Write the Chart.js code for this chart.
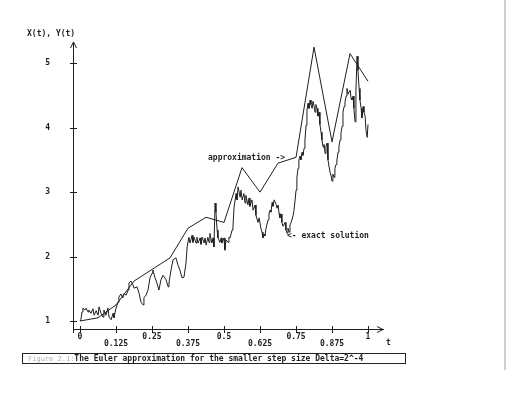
<!DOCTYPE html>
<html>
<head>
<meta charset="utf-8">
<script src="https://cdn.jsdelivr.net/npm/chart.js@4.4.1/dist/chart.umd.min.js"></script>
<style>
  html, body { margin: 0; padding: 0; background: #fff; }
  #wrap { position: relative; width: 517px; height: 400px; overflow: hidden; background: #fff; }
  #c { position: absolute; left: 0; top: 0; }
  .lbl { position: absolute; font: bold 8px "DejaVu Sans Mono", "Liberation Mono", monospace; line-height: 8px; color: #1e1e1e; white-space: pre; }
  #caption { position: absolute; left: 22px; top: 353px; width: 384px; height: 11px; box-sizing: border-box; border: 1px solid #222; }
  #caption span.fig { font-weight: normal; font-size: 7px; color: #b0b0b0; }
  #edge { position: absolute; left: 504px; top: 0; width: 2px; height: 370px; background: #cfcfcf; }
</style>
</head>
<body>
<div id="wrap">
  <canvas id="c" width="517" height="400"></canvas>
  <div class="lbl" style="left:27px; top:30px;">X(t), Y(t)</div>
  <div class="lbl" style="left:208px; top:154px;">approximation -&gt;</div>
  <div class="lbl" style="left:287px; top:232px;">&lt;- exact solution</div>
  <div class="lbl" style="left:386px; top:339px;">t</div>
  <div id="caption"><div class="lbl" style="left:5px; top:1px;"><span class="fig">Figure 2.1:</span>The Euler approximation for the smaller step size Delta=2^-4</div></div>
  <div id="edge"></div>
</div>
<script>
// ---- data ----
const xTickValues = [0, 0.125, 0.25, 0.375, 0.5, 0.625, 0.75, 0.875, 1];
const xTickLabels = ['0', '0.125', '0.25', '0.375', '0.5', '0.625', '0.75', '0.875', '1'];
const yTickValues = [1, 2, 3, 4, 5];
const yTickLabels = ['1', '2', '3', '4', '5'];

// Euler approximation, step Delta = 2^-4
const approxT = [0, 0.0625, 0.125, 0.1875, 0.25, 0.3125, 0.375, 0.4375, 0.5,
                 0.5625, 0.625, 0.6875, 0.75, 0.8125, 0.875, 0.9375, 1];
const approxY = [1.00, 1.05, 1.25, 1.62, 1.80, 1.98, 2.44, 2.61, 2.53,
                 3.38, 3.00, 3.45, 3.54, 5.25, 3.78, 5.15, 4.72];

// exact solution
const exactT = [0, 0.003, 0.007, 0.010, 0.017, 0.021, 0.028, 0.031, 0.038, 0.045, 0.049, 0.056, 0.063, 0.066, 0.073, 0.080, 0.083, 0.090, 0.097, 0.101,
  0.108, 0.115, 0.118, 0.125, 0.132, 0.135, 0.142, 0.149, 0.153, 0.160, 0.167, 0.170, 0.177, 0.184, 0.188, 0.198, 0.205, 0.212, 0.219, 0.222,
  0.229, 0.236, 0.243, 0.250, 0.253, 0.260, 0.267, 0.274, 0.281, 0.288, 0.299, 0.306, 0.309, 0.316, 0.323, 0.333, 0.340, 0.347, 0.354, 0.361,
  0.368, 0.372, 0.378, 0.382, 0.389, 0.392, 0.396, 0.403, 0.406, 0.410, 0.417, 0.420, 0.424, 0.431, 0.434, 0.438, 0.444, 0.448, 0.451, 0.458,
  0.462, 0.465, 0.469, 0.472, 0.476, 0.479, 0.486, 0.490, 0.493, 0.500, 0.503, 0.507, 0.514, 0.517, 0.521, 0.528, 0.531, 0.535, 0.542, 0.545,
  0.549, 0.556, 0.559, 0.563, 0.569, 0.573, 0.576, 0.583, 0.587, 0.590, 0.597, 0.601, 0.608, 0.611, 0.618, 0.622, 0.628, 0.632, 0.635, 0.639,
  0.642, 0.646, 0.653, 0.656, 0.660, 0.663, 0.667, 0.670, 0.674, 0.681, 0.684, 0.688, 0.691, 0.694, 0.698, 0.701, 0.705, 0.712, 0.715, 0.719,
  0.722, 0.726, 0.729, 0.733, 0.740, 0.743, 0.747, 0.750, 0.753, 0.757, 0.760, 0.764, 0.767, 0.771, 0.774, 0.778, 0.781, 0.785, 0.788, 0.792,
  0.795, 0.799, 0.802, 0.806, 0.809, 0.813, 0.816, 0.819, 0.823, 0.826, 0.830, 0.833, 0.837, 0.840, 0.844, 0.847, 0.851, 0.854, 0.858, 0.861,
  0.865, 0.868, 0.872, 0.875, 0.878, 0.882, 0.885, 0.889, 0.892, 0.896, 0.899, 0.903, 0.906, 0.910, 0.913, 0.917, 0.920, 0.924, 0.927, 0.931,
  0.934, 0.938, 0.941, 0.944, 0.948, 0.951, 0.955, 0.958, 0.962, 0.965, 0.969, 0.972, 0.976, 0.979, 0.983, 0.986, 0.990, 0.993, 0.997, 1.000];
const exactY = [1.00, 1.02, 1.14, 1.20, 1.17, 1.20, 1.14, 1.17, 1.12, 1.19, 1.09, 1.16, 1.09, 1.22, 1.12, 1.06, 1.17, 1.09, 1.20, 1.06,
  1.02, 1.12, 1.05, 1.20, 1.29, 1.37, 1.42, 1.36, 1.43, 1.40, 1.48, 1.59, 1.62, 1.56, 1.51, 1.53, 1.43, 1.29, 1.25, 1.36,
  1.40, 1.48, 1.67, 1.74, 1.79, 1.68, 1.59, 1.48, 1.64, 1.71, 1.64, 1.53, 1.59, 1.79, 1.95, 1.98, 1.87, 1.79, 1.67, 1.68,
  1.90, 2.15, 2.30, 2.21, 2.33, 2.22, 2.30, 2.21, 2.30, 2.21, 2.29, 2.19, 2.30, 2.21, 2.29, 2.18, 2.30, 2.22, 2.36, 2.21,
  2.29, 2.15, 2.83, 2.69, 2.41, 2.29, 2.22, 2.29, 2.21, 2.29, 2.10, 2.26, 2.22, 2.30, 2.29, 2.41, 2.46, 2.77, 2.98, 2.88,
  3.08, 2.92, 3.03, 2.88, 2.98, 2.83, 2.95, 2.80, 2.91, 2.78, 2.88, 2.72, 2.80, 2.64, 2.53, 2.60, 2.44, 2.38, 2.29, 2.35,
  2.32, 2.44, 2.57, 2.66, 2.72, 2.69, 2.84, 2.78, 2.88, 2.81, 2.75, 2.80, 2.67, 2.60, 2.66, 2.53, 2.47, 2.53, 2.41, 2.36,
  2.44, 2.38, 2.49, 2.53, 2.64, 2.72, 2.88, 3.03, 3.22, 3.37, 3.50, 3.56, 3.50, 3.62, 3.57, 3.68, 3.81, 4.04, 4.27, 4.38,
  4.30, 4.43, 4.36, 4.30, 4.41, 4.33, 4.24, 4.36, 4.30, 4.18, 4.24, 4.05, 3.93, 3.81, 3.70, 3.74, 3.60, 3.71, 3.76, 3.50,
  3.39, 3.31, 3.25, 3.17, 3.28, 3.23, 3.37, 3.43, 3.50, 3.62, 3.71, 3.81, 3.91, 4.02, 4.24, 4.33, 4.40, 4.49, 4.61, 4.52,
  4.55, 4.58, 4.46, 4.43, 4.49, 4.30, 4.09, 4.58, 5.11, 4.89, 4.61, 4.43, 4.30, 4.15, 4.33, 4.24, 4.18, 3.96, 3.85, 4.05];

const toPts = (ts, ys) => ts.map((t, i) => ({ x: t, y: ys[i] }));

const INK = '#1e1e1e';

const axisDeco = {
  id: 'axisDeco',
  afterDraw(chart) {
    const { ctx, scales: { x, y } } = chart;
    const L = x.left, B = y.bottom, T = y.top, R = x.right;
    ctx.save();
    ctx.strokeStyle = INK;
    ctx.lineWidth = 1;
    ctx.beginPath();
    ctx.moveTo(L + 0.5, B); ctx.lineTo(L + 0.5, B + 4);
    ctx.moveTo(L + 0.5 - 3, T + 6); ctx.lineTo(L + 0.5, T); ctx.lineTo(L + 0.5 + 3, T + 6);
    ctx.moveTo(R - 6, B + 0.5 - 3); ctx.lineTo(R, B + 0.5); ctx.lineTo(R - 6, B + 0.5 + 3);
    yTickValues.forEach(v => {
      const py = Math.round(y.getPixelForValue(v)) + 0.5;
      ctx.moveTo(L - 3, py); ctx.lineTo(L + 4, py);
    });
    xTickValues.forEach(v => {
      const px = Math.round(x.getPixelForValue(v)) + 0.5;
      ctx.moveTo(px, B - 3); ctx.lineTo(px, B + 4);
    });
    ctx.stroke();
    ctx.restore();
  }
};

Chart.defaults.font.family = '"DejaVu Sans Mono", "Liberation Mono", monospace';
Chart.defaults.font.size = 8;
Chart.defaults.font.weight = 'bold';
Chart.defaults.color = INK;

new Chart(document.getElementById('c'), {
  type: 'scatter',
  data: {
    datasets: [
      { label: 'approximation', data: toPts(approxT, approxY), showLine: true,
        borderColor: INK, borderWidth: 1, pointRadius: 0, tension: 0, fill: false },
      { label: 'exact solution', data: toPts(exactT, exactY), showLine: true,
        borderColor: INK, borderWidth: 1, pointRadius: 0, tension: 0, fill: false }
    ]
  },
  options: {
    responsive: false,
    animation: false,
    devicePixelRatio: 1,
    layout: { padding: { left: 0, top: 42, right: 134, bottom: 51 } },
    plugins: { legend: { display: false }, tooltip: { enabled: false }, title: { display: false } },
    scales: {
      x: {
        type: 'linear', min: -0.0243, max: 1.052,
        afterBuildTicks: s => { s.ticks = xTickValues.map(v => ({ value: v })); },
        afterFit: s => { s.height = 20; s.paddingLeft = 0; s.paddingRight = 0; },
        grid: { display: false, drawTicks: false },
        border: { display: true, color: INK, width: 1 },
        ticks: {
          padding: 5, maxRotation: 0, autoSkip: false,
          font: { lineHeight: 0.8 },
          callback: (v, i) => (i % 2 === 1 ? ['', xTickLabels[i]] : xTickLabels[i])
        }
      },
      y: {
        type: 'linear', min: 0.876, max: 5.33,
        afterBuildTicks: s => { s.ticks = yTickValues.map(v => ({ value: v })); },
        afterFit: s => { s.width = 73; s.paddingTop = 0; s.paddingBottom = 0; },
        grid: { display: false, drawTicks: false },
        border: { display: true, color: INK, width: 1 },
        ticks: { padding: 23, autoSkip: false, callback: (v, i) => yTickLabels[i] }
      }
    }
  },
  plugins: [axisDeco]
});
</script>
</body>
</html>
